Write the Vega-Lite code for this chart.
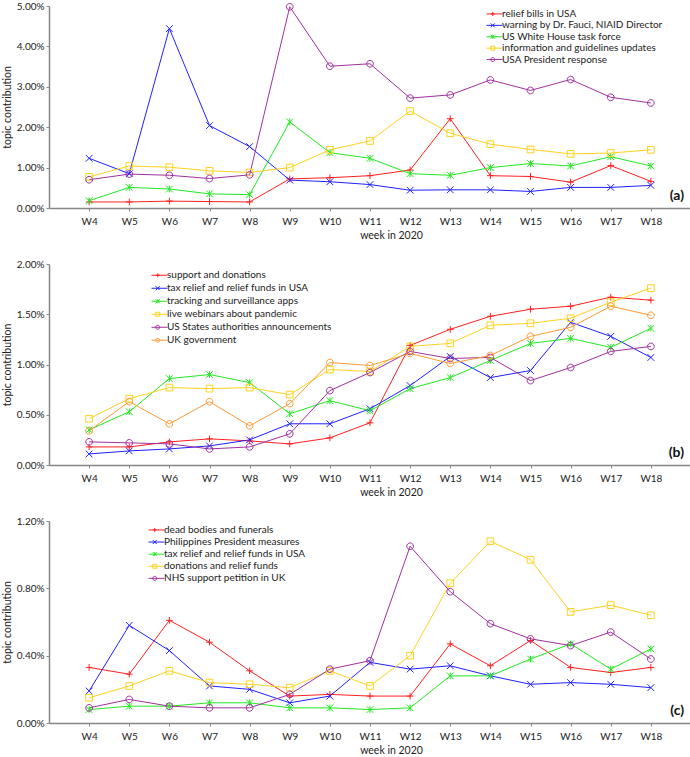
{
  "$schema": "https://vega.github.io/schema/vega-lite/v6.json",
  "padding": {"left": 2, "top": 1, "right": 0, "bottom": 0},
  "spacing": 18,
  "datasets": {
    "a": [
      {"w":4,"s":"relief bills in USA","v":0.15},{"w":5,"s":"relief bills in USA","v":0.15},{"w":6,"s":"relief bills in USA","v":0.17},{"w":7,"s":"relief bills in USA","v":0.16},{"w":8,"s":"relief bills in USA","v":0.15},{"w":9,"s":"relief bills in USA","v":0.72},{"w":10,"s":"relief bills in USA","v":0.75},{"w":11,"s":"relief bills in USA","v":0.80},{"w":12,"s":"relief bills in USA","v":0.94},{"w":13,"s":"relief bills in USA","v":2.21},{"w":14,"s":"relief bills in USA","v":0.80},{"w":15,"s":"relief bills in USA","v":0.78},{"w":16,"s":"relief bills in USA","v":0.64},{"w":17,"s":"relief bills in USA","v":1.05},{"w":18,"s":"relief bills in USA","v":0.66},
      {"w":4,"s":"warning by Dr. Fauci, NIAID Director","v":1.23},{"w":5,"s":"warning by Dr. Fauci, NIAID Director","v":0.85},{"w":6,"s":"warning by Dr. Fauci, NIAID Director","v":4.44},{"w":7,"s":"warning by Dr. Fauci, NIAID Director","v":2.04},{"w":8,"s":"warning by Dr. Fauci, NIAID Director","v":1.52},{"w":9,"s":"warning by Dr. Fauci, NIAID Director","v":0.69},{"w":10,"s":"warning by Dr. Fauci, NIAID Director","v":0.65},{"w":11,"s":"warning by Dr. Fauci, NIAID Director","v":0.58},{"w":12,"s":"warning by Dr. Fauci, NIAID Director","v":0.44},{"w":13,"s":"warning by Dr. Fauci, NIAID Director","v":0.45},{"w":14,"s":"warning by Dr. Fauci, NIAID Director","v":0.45},{"w":15,"s":"warning by Dr. Fauci, NIAID Director","v":0.41},{"w":16,"s":"warning by Dr. Fauci, NIAID Director","v":0.51},{"w":17,"s":"warning by Dr. Fauci, NIAID Director","v":0.51},{"w":18,"s":"warning by Dr. Fauci, NIAID Director","v":0.56},
      {"w":4,"s":"US White House task force","v":0.18},{"w":5,"s":"US White House task force","v":0.51},{"w":6,"s":"US White House task force","v":0.47},{"w":7,"s":"US White House task force","v":0.35},{"w":8,"s":"US White House task force","v":0.33},{"w":9,"s":"US White House task force","v":2.13},{"w":10,"s":"US White House task force","v":1.37},{"w":11,"s":"US White House task force","v":1.23},{"w":12,"s":"US White House task force","v":0.85},{"w":13,"s":"US White House task force","v":0.81},{"w":14,"s":"US White House task force","v":1.00},{"w":15,"s":"US White House task force","v":1.10},{"w":16,"s":"US White House task force","v":1.04},{"w":17,"s":"US White House task force","v":1.27},{"w":18,"s":"US White House task force","v":1.04},
      {"w":4,"s":"information and guidelines updates","v":0.77},{"w":5,"s":"information and guidelines updates","v":1.04},{"w":6,"s":"information and guidelines updates","v":1.01},{"w":7,"s":"information and guidelines updates","v":0.92},{"w":8,"s":"information and guidelines updates","v":0.88},{"w":9,"s":"information and guidelines updates","v":1.00},{"w":10,"s":"information and guidelines updates","v":1.44},{"w":11,"s":"information and guidelines updates","v":1.66},{"w":12,"s":"information and guidelines updates","v":2.40},{"w":13,"s":"information and guidelines updates","v":1.85},{"w":14,"s":"information and guidelines updates","v":1.58},{"w":15,"s":"information and guidelines updates","v":1.45},{"w":16,"s":"information and guidelines updates","v":1.34},{"w":17,"s":"information and guidelines updates","v":1.36},{"w":18,"s":"information and guidelines updates","v":1.44},
      {"w":4,"s":"USA President response","v":0.70},{"w":5,"s":"USA President response","v":0.84},{"w":6,"s":"USA President response","v":0.81},{"w":7,"s":"USA President response","v":0.73},{"w":8,"s":"USA President response","v":0.82},{"w":9,"s":"USA President response","v":4.98},{"w":10,"s":"USA President response","v":3.51},{"w":11,"s":"USA President response","v":3.57},{"w":12,"s":"USA President response","v":2.72},{"w":13,"s":"USA President response","v":2.80},{"w":14,"s":"USA President response","v":3.17},{"w":15,"s":"USA President response","v":2.91},{"w":16,"s":"USA President response","v":3.18},{"w":17,"s":"USA President response","v":2.74},{"w":18,"s":"USA President response","v":2.60}
    ],
    "b": [
      {"w":4,"s":"support and donations","v":0.18},{"w":5,"s":"support and donations","v":0.18},{"w":6,"s":"support and donations","v":0.23},{"w":7,"s":"support and donations","v":0.26},{"w":8,"s":"support and donations","v":0.24},{"w":9,"s":"support and donations","v":0.21},{"w":10,"s":"support and donations","v":0.27},{"w":11,"s":"support and donations","v":0.42},{"w":12,"s":"support and donations","v":1.19},{"w":13,"s":"support and donations","v":1.35},{"w":14,"s":"support and donations","v":1.48},{"w":15,"s":"support and donations","v":1.55},{"w":16,"s":"support and donations","v":1.58},{"w":17,"s":"support and donations","v":1.67},{"w":18,"s":"support and donations","v":1.64},
      {"w":4,"s":"tax relief and relief funds in USA","v":0.11},{"w":5,"s":"tax relief and relief funds in USA","v":0.14},{"w":6,"s":"tax relief and relief funds in USA","v":0.16},{"w":7,"s":"tax relief and relief funds in USA","v":0.19},{"w":8,"s":"tax relief and relief funds in USA","v":0.25},{"w":9,"s":"tax relief and relief funds in USA","v":0.41},{"w":10,"s":"tax relief and relief funds in USA","v":0.41},{"w":11,"s":"tax relief and relief funds in USA","v":0.56},{"w":12,"s":"tax relief and relief funds in USA","v":0.79},{"w":13,"s":"tax relief and relief funds in USA","v":1.08},{"w":14,"s":"tax relief and relief funds in USA","v":0.87},{"w":15,"s":"tax relief and relief funds in USA","v":0.94},{"w":16,"s":"tax relief and relief funds in USA","v":1.42},{"w":17,"s":"tax relief and relief funds in USA","v":1.28},{"w":18,"s":"tax relief and relief funds in USA","v":1.07},
      {"w":4,"s":"tracking and surveillance apps","v":0.35},{"w":5,"s":"tracking and surveillance apps","v":0.53},{"w":6,"s":"tracking and surveillance apps","v":0.86},{"w":7,"s":"tracking and surveillance apps","v":0.90},{"w":8,"s":"tracking and surveillance apps","v":0.82},{"w":9,"s":"tracking and surveillance apps","v":0.51},{"w":10,"s":"tracking and surveillance apps","v":0.64},{"w":11,"s":"tracking and surveillance apps","v":0.54},{"w":12,"s":"tracking and surveillance apps","v":0.76},{"w":13,"s":"tracking and surveillance apps","v":0.87},{"w":14,"s":"tracking and surveillance apps","v":1.04},{"w":15,"s":"tracking and surveillance apps","v":1.21},{"w":16,"s":"tracking and surveillance apps","v":1.26},{"w":17,"s":"tracking and surveillance apps","v":1.17},{"w":18,"s":"tracking and surveillance apps","v":1.36},
      {"w":4,"s":"live webinars about pandemic","v":0.46},{"w":5,"s":"live webinars about pandemic","v":0.66},{"w":6,"s":"live webinars about pandemic","v":0.77},{"w":7,"s":"live webinars about pandemic","v":0.76},{"w":8,"s":"live webinars about pandemic","v":0.77},{"w":9,"s":"live webinars about pandemic","v":0.70},{"w":10,"s":"live webinars about pandemic","v":0.95},{"w":11,"s":"live webinars about pandemic","v":0.93},{"w":12,"s":"live webinars about pandemic","v":1.18},{"w":13,"s":"live webinars about pandemic","v":1.21},{"w":14,"s":"live webinars about pandemic","v":1.39},{"w":15,"s":"live webinars about pandemic","v":1.41},{"w":16,"s":"live webinars about pandemic","v":1.46},{"w":17,"s":"live webinars about pandemic","v":1.62},{"w":18,"s":"live webinars about pandemic","v":1.76},
      {"w":4,"s":"US States authorities announcements","v":0.23},{"w":5,"s":"US States authorities announcements","v":0.22},{"w":6,"s":"US States authorities announcements","v":0.21},{"w":7,"s":"US States authorities announcements","v":0.16},{"w":8,"s":"US States authorities announcements","v":0.18},{"w":9,"s":"US States authorities announcements","v":0.31},{"w":10,"s":"US States authorities announcements","v":0.74},{"w":11,"s":"US States authorities announcements","v":0.92},{"w":12,"s":"US States authorities announcements","v":1.13},{"w":13,"s":"US States authorities announcements","v":1.06},{"w":14,"s":"US States authorities announcements","v":1.07},{"w":15,"s":"US States authorities announcements","v":0.84},{"w":16,"s":"US States authorities announcements","v":0.97},{"w":17,"s":"US States authorities announcements","v":1.13},{"w":18,"s":"US States authorities announcements","v":1.18},
      {"w":4,"s":"UK government","v":0.34},{"w":5,"s":"UK government","v":0.63},{"w":6,"s":"UK government","v":0.41},{"w":7,"s":"UK government","v":0.63},{"w":8,"s":"UK government","v":0.39},{"w":9,"s":"UK government","v":0.61},{"w":10,"s":"UK government","v":1.02},{"w":11,"s":"UK government","v":0.99},{"w":12,"s":"UK government","v":1.11},{"w":13,"s":"UK government","v":1.01},{"w":14,"s":"UK government","v":1.09},{"w":15,"s":"UK government","v":1.28},{"w":16,"s":"UK government","v":1.37},{"w":17,"s":"UK government","v":1.58},{"w":18,"s":"UK government","v":1.49}
    ],
    "c": [
      {"w":4,"s":"dead bodies and funerals","v":0.33},{"w":5,"s":"dead bodies and funerals","v":0.29},{"w":6,"s":"dead bodies and funerals","v":0.61},{"w":7,"s":"dead bodies and funerals","v":0.48},{"w":8,"s":"dead bodies and funerals","v":0.31},{"w":9,"s":"dead bodies and funerals","v":0.16},{"w":10,"s":"dead bodies and funerals","v":0.17},{"w":11,"s":"dead bodies and funerals","v":0.16},{"w":12,"s":"dead bodies and funerals","v":0.16},{"w":13,"s":"dead bodies and funerals","v":0.47},{"w":14,"s":"dead bodies and funerals","v":0.34},{"w":15,"s":"dead bodies and funerals","v":0.49},{"w":16,"s":"dead bodies and funerals","v":0.33},{"w":17,"s":"dead bodies and funerals","v":0.30},{"w":18,"s":"dead bodies and funerals","v":0.33},
      {"w":4,"s":"Philippines President measures","v":0.19},{"w":5,"s":"Philippines President measures","v":0.58},{"w":6,"s":"Philippines President measures","v":0.43},{"w":7,"s":"Philippines President measures","v":0.22},{"w":8,"s":"Philippines President measures","v":0.20},{"w":9,"s":"Philippines President measures","v":0.12},{"w":10,"s":"Philippines President measures","v":0.16},{"w":11,"s":"Philippines President measures","v":0.36},{"w":12,"s":"Philippines President measures","v":0.32},{"w":13,"s":"Philippines President measures","v":0.34},{"w":14,"s":"Philippines President measures","v":0.28},{"w":15,"s":"Philippines President measures","v":0.23},{"w":16,"s":"Philippines President measures","v":0.24},{"w":17,"s":"Philippines President measures","v":0.23},{"w":18,"s":"Philippines President measures","v":0.21},
      {"w":4,"s":"tax relief and relief funds in USA","v":0.08},{"w":5,"s":"tax relief and relief funds in USA","v":0.10},{"w":6,"s":"tax relief and relief funds in USA","v":0.10},{"w":7,"s":"tax relief and relief funds in USA","v":0.12},{"w":8,"s":"tax relief and relief funds in USA","v":0.12},{"w":9,"s":"tax relief and relief funds in USA","v":0.09},{"w":10,"s":"tax relief and relief funds in USA","v":0.09},{"w":11,"s":"tax relief and relief funds in USA","v":0.08},{"w":12,"s":"tax relief and relief funds in USA","v":0.09},{"w":13,"s":"tax relief and relief funds in USA","v":0.28},{"w":14,"s":"tax relief and relief funds in USA","v":0.28},{"w":15,"s":"tax relief and relief funds in USA","v":0.38},{"w":16,"s":"tax relief and relief funds in USA","v":0.47},{"w":17,"s":"tax relief and relief funds in USA","v":0.32},{"w":18,"s":"tax relief and relief funds in USA","v":0.44},
      {"w":4,"s":"donations and relief funds","v":0.15},{"w":5,"s":"donations and relief funds","v":0.22},{"w":6,"s":"donations and relief funds","v":0.31},{"w":7,"s":"donations and relief funds","v":0.24},{"w":8,"s":"donations and relief funds","v":0.23},{"w":9,"s":"donations and relief funds","v":0.21},{"w":10,"s":"donations and relief funds","v":0.31},{"w":11,"s":"donations and relief funds","v":0.22},{"w":12,"s":"donations and relief funds","v":0.40},{"w":13,"s":"donations and relief funds","v":0.83},{"w":14,"s":"donations and relief funds","v":1.08},{"w":15,"s":"donations and relief funds","v":0.97},{"w":16,"s":"donations and relief funds","v":0.66},{"w":17,"s":"donations and relief funds","v":0.70},{"w":18,"s":"donations and relief funds","v":0.64},
      {"w":4,"s":"NHS support petition in UK","v":0.09},{"w":5,"s":"NHS support petition in UK","v":0.14},{"w":6,"s":"NHS support petition in UK","v":0.10},{"w":7,"s":"NHS support petition in UK","v":0.09},{"w":8,"s":"NHS support petition in UK","v":0.09},{"w":9,"s":"NHS support petition in UK","v":0.17},{"w":10,"s":"NHS support petition in UK","v":0.32},{"w":11,"s":"NHS support petition in UK","v":0.37},{"w":12,"s":"NHS support petition in UK","v":1.05},{"w":13,"s":"NHS support petition in UK","v":0.78},{"w":14,"s":"NHS support petition in UK","v":0.59},{"w":15,"s":"NHS support petition in UK","v":0.50},{"w":16,"s":"NHS support petition in UK","v":0.46},{"w":17,"s":"NHS support petition in UK","v":0.54},{"w":18,"s":"NHS support petition in UK","v":0.38}
    ],
    "la": [{"t":"(a)"}],
    "lb": [{"t":"(b)"}],
    "lc": [{"t":"(c)"}]
  },
  "vconcat": [
    {
      "width": 642, "height": 202,
      "layer": [
        {
          "data": {"name": "a"},
          "mark": {"type": "line", "strokeWidth": 1},
          "encoding": {
            "x": {"field": "w", "type": "quantitative", "scale": {"domain": [3, 19], "nice": false}, "axis": {"values": [4,5,6,7,8,9,10,11,12,13,14,15,16,17,18], "labelExpr": "'W' + datum.value", "title": "week in 2020", "titleX": 342}},
            "y": {"field": "v", "type": "quantitative", "scale": {"domain": [0, 5], "nice": false}, "axis": {"values": [0,1,2,3,4,5], "labelOverlap": false, "labelExpr": "format(datum.value, '.2f') + '%'", "title": "topic contribution"}},
            "stroke": {"field": "s", "type": "nominal", "scale": {"domain": ["USA President response","information and guidelines updates","US White House task force","warning by Dr. Fauci, NIAID Director","relief bills in USA"], "range": ["#A0309E","#FFD21E","#22E822","#2020FF","#FF2020"]}, "legend": {"orient": "none", "legendX": 440.5, "legendY": 2.95, "title": null, "values": ["relief bills in USA","warning by Dr. Fauci, NIAID Director","US White House task force","information and guidelines updates","USA President response"], "symbolType": "M-2,0H2", "symbolSize": 64, "labelOffset": 5.5, "labelExpr": "' '", "rowPadding": 1.4}}
          }
        },
        {
          "data": {"name": "a"},
          "mark": {"type": "point", "filled": false, "size": 180, "strokeWidth": 1, "opacity": 1},
          "encoding": {
            "x": {"field": "w", "type": "quantitative"},
            "y": {"field": "v", "type": "quantitative"},
            "color": {"field": "s", "type": "nominal", "scale": {"domain": ["relief bills in USA","warning by Dr. Fauci, NIAID Director","US White House task force","information and guidelines updates","USA President response"], "range": ["#FF2020","#2020FF","#22E822","#FFD21E","#A0309E"]}, "legend": {"orient": "none", "legendX": 438.75, "legendY": 2.95, "title": null, "labelOffset": 4.25, "rowPadding": 1.4}},
            "shape": {"field": "s", "type": "nominal", "scale": {"domain": ["relief bills in USA","warning by Dr. Fauci, NIAID Director","US White House task force","information and guidelines updates","USA President response"], "range": ["M-0.5,0H0.5M0,-0.5V0.5","M-0.5,-0.5L0.5,0.5M-0.5,0.5L0.5,-0.5","M-0.5,-0.5L0.5,0.5M-0.5,0.5L0.5,-0.5M0,-0.5V0.5","M-0.5,-0.5H0.5V0.5H-0.5Z","M0.5,0A0.5,0.5,0,1,1,-0.5,0A0.5,0.5,0,1,1,0.5,0Z"]}, "legend": {"orient": "none", "legendX": 438.75, "legendY": 2.95, "title": null, "labelOffset": 4.25, "rowPadding": 1.4}}
          }
        },
        {
          "data": {"name": "la"},
          "mark": {"type": "text", "align": "right", "baseline": "bottom", "dx": -7, "dy": -5, "fontSize": 14, "fontWeight": "bold"},
          "encoding": {"x": {"datum": 19}, "y": {"datum": 0}, "text": {"field": "t"}}
        }
      ]
    },
    {
      "width": 642, "height": 201,
      "layer": [
        {
          "data": {"name": "b"},
          "mark": {"type": "line", "strokeWidth": 1},
          "encoding": {
            "x": {"field": "w", "type": "quantitative", "scale": {"domain": [3, 19], "nice": false}, "axis": {"values": [4,5,6,7,8,9,10,11,12,13,14,15,16,17,18], "labelExpr": "'W' + datum.value", "title": "week in 2020", "titleX": 342}},
            "y": {"field": "v", "type": "quantitative", "scale": {"domain": [0, 2], "nice": false}, "axis": {"values": [0,0.5,1,1.5,2], "labelOverlap": false, "labelExpr": "format(datum.value, '.2f') + '%'", "title": "topic contribution"}},
            "stroke": {"field": "s", "type": "nominal", "scale": {"domain": ["UK government","US States authorities announcements","live webinars about pandemic","tracking and surveillance apps","tax relief and relief funds in USA","support and donations"], "range": ["#FF9A35","#A0309E","#FFD21E","#22E822","#2020FF","#FF2020"]}, "legend": {"orient": "none", "legendX": 105.5, "legendY": 6.25, "title": null, "values": ["support and donations","tax relief and relief funds in USA","tracking and surveillance apps","live webinars about pandemic","US States authorities announcements","UK government"], "symbolType": "M-2,0H2", "symbolSize": 64, "labelOffset": 5.5, "labelExpr": "' '", "rowPadding": 3.0}}
          }
        },
        {
          "data": {"name": "b"},
          "mark": {"type": "point", "filled": false, "size": 180, "strokeWidth": 1, "opacity": 1},
          "encoding": {
            "x": {"field": "w", "type": "quantitative"},
            "y": {"field": "v", "type": "quantitative"},
            "color": {"field": "s", "type": "nominal", "scale": {"domain": ["support and donations","tax relief and relief funds in USA","tracking and surveillance apps","live webinars about pandemic","US States authorities announcements","UK government"], "range": ["#FF2020","#2020FF","#22E822","#FFD21E","#A0309E","#FF9A35"]}, "legend": {"orient": "none", "legendX": 103.75, "legendY": 6.25, "title": null, "labelOffset": 4.25, "rowPadding": 3.0}},
            "shape": {"field": "s", "type": "nominal", "scale": {"domain": ["support and donations","tax relief and relief funds in USA","tracking and surveillance apps","live webinars about pandemic","US States authorities announcements","UK government"], "range": ["M-0.5,0H0.5M0,-0.5V0.5","M-0.5,-0.5L0.5,0.5M-0.5,0.5L0.5,-0.5","M-0.5,-0.5L0.5,0.5M-0.5,0.5L0.5,-0.5M0,-0.5V0.5","M-0.5,-0.5H0.5V0.5H-0.5Z","M0.5,0A0.5,0.5,0,1,1,-0.5,0A0.5,0.5,0,1,1,0.5,0Z","M0.5,0A0.5,0.5,0,1,1,-0.5,0A0.5,0.5,0,1,1,0.5,0Z"]}, "legend": {"orient": "none", "legendX": 103.75, "legendY": 6.25, "title": null, "labelOffset": 4.25, "rowPadding": 3.0}}
          }
        },
        {
          "data": {"name": "lb"},
          "mark": {"type": "text", "align": "right", "baseline": "bottom", "dx": -7, "dy": -5, "fontSize": 14, "fontWeight": "bold"},
          "encoding": {"x": {"datum": 19}, "y": {"datum": 0}, "text": {"field": "t"}}
        }
      ]
    },
    {
      "width": 642, "height": 202,
      "layer": [
        {
          "data": {"name": "c"},
          "mark": {"type": "line", "strokeWidth": 1},
          "encoding": {
            "x": {"field": "w", "type": "quantitative", "scale": {"domain": [3, 19], "nice": false}, "axis": {"values": [4,5,6,7,8,9,10,11,12,13,14,15,16,17,18], "labelExpr": "'W' + datum.value", "title": "week in 2020", "titleX": 342}},
            "y": {"field": "v", "type": "quantitative", "scale": {"domain": [0, 1.2], "nice": false}, "axis": {"values": [0,0.2,0.4,0.6,0.8,1.0,1.2], "labelOverlap": false, "labelExpr": "format(datum.value, '.2f') + '%'", "title": "topic contribution"}},
            "stroke": {"field": "s", "type": "nominal", "scale": {"domain": ["NHS support petition in UK","donations and relief funds","tax relief and relief funds in USA","Philippines President measures","dead bodies and funerals"], "range": ["#A0309E","#FFD21E","#22E822","#2020FF","#FF2020"]}, "legend": {"orient": "none", "legendX": 102.5, "legendY": 3.95, "title": null, "values": ["dead bodies and funerals","Philippines President measures","tax relief and relief funds in USA","donations and relief funds","NHS support petition in UK"], "symbolType": "M-2,0H2", "symbolSize": 64, "labelOffset": 5.5, "labelExpr": "' '", "rowPadding": 2.1}}
          }
        },
        {
          "data": {"name": "c"},
          "mark": {"type": "point", "filled": false, "size": 180, "strokeWidth": 1, "opacity": 1},
          "encoding": {
            "x": {"field": "w", "type": "quantitative"},
            "y": {"field": "v", "type": "quantitative"},
            "color": {"field": "s", "type": "nominal", "scale": {"domain": ["dead bodies and funerals","Philippines President measures","tax relief and relief funds in USA","donations and relief funds","NHS support petition in UK"], "range": ["#FF2020","#2020FF","#22E822","#FFD21E","#A0309E"]}, "legend": {"orient": "none", "legendX": 100.75, "legendY": 3.95, "title": null, "labelOffset": 4.25, "rowPadding": 2.1}},
            "shape": {"field": "s", "type": "nominal", "scale": {"domain": ["dead bodies and funerals","Philippines President measures","tax relief and relief funds in USA","donations and relief funds","NHS support petition in UK"], "range": ["M-0.5,0H0.5M0,-0.5V0.5","M-0.5,-0.5L0.5,0.5M-0.5,0.5L0.5,-0.5","M-0.5,-0.5L0.5,0.5M-0.5,0.5L0.5,-0.5M0,-0.5V0.5","M-0.5,-0.5H0.5V0.5H-0.5Z","M0.5,0A0.5,0.5,0,1,1,-0.5,0A0.5,0.5,0,1,1,0.5,0Z"]}, "legend": {"orient": "none", "legendX": 100.75, "legendY": 3.95, "title": null, "labelOffset": 4.25, "rowPadding": 2.1}}
          }
        },
        {
          "data": {"name": "lc"},
          "mark": {"type": "text", "align": "right", "baseline": "bottom", "dx": -7, "dy": -5, "fontSize": 14, "fontWeight": "bold"},
          "encoding": {"x": {"datum": 19}, "y": {"datum": 0}, "text": {"field": "t"}}
        }
      ]
    }
  ],
  "resolve": {"scale": {"color": "independent", "shape": "independent", "stroke": "independent", "x": "independent", "y": "independent"}},
  "config": {
    "font": "Lato",
    "view": {"stroke": null},
    "axis": {"grid": false, "domainColor": "#868686", "domainWidth": 1.5, "tickColor": "#868686", "tickSize": 3, "labelFontSize": 10, "labelColor": "#222222", "titleFontSize": 10.5, "titleFontWeight": "normal", "titleColor": "#222222"},
    "axisY": {"labelPadding": 2, "titlePadding": 4},
    "axisX": {"labelPadding": 5, "titlePadding": 4},
    "legend": {"labelFontSize": 10, "labelColor": "#222222", "labelLimit": 400, "padding": 0, "symbolStrokeWidth": 1, "symbolSize": 64},
    "text": {"color": "#111111"}
  }
}
